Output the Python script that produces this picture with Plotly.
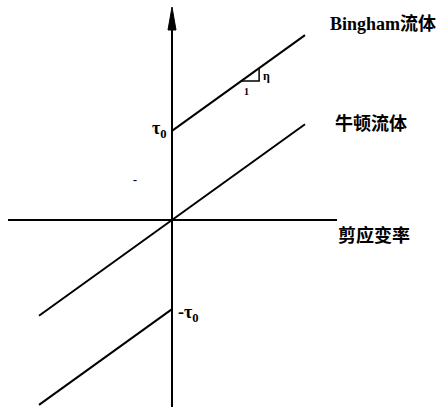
import plotly.graph_objects as go

# Data (model units)
eta = 0.72          # slope (viscosity)
tau0 = 0.67         # yield stress
newton_gamma = [-1.0, 1.0]
bing_up_gamma = [0.0, 1.0]
bing_lo_gamma = [-1.0, 0.0]
tri_gamma = [0.52, 0.655]

newton_tau = [eta * g for g in newton_gamma]
bing_up_tau = [tau0 + eta * g for g in bing_up_gamma]
bing_lo_tau = [-tau0 + eta * g for g in bing_lo_gamma]

PX = 133.0
x0, y0 = 172.0, 220.0
W, H = 441, 407
xr = [-x0 / PX, (W - x0) / PX]
yr = [(y0 - H) / PX, y0 / PX]

def gx(px):
    return (px - x0) / PX

def gy(py):
    return (y0 - py) / PX

fig = go.Figure()
line = dict(color="black", width=2)
for xs, ys in [(newton_gamma, newton_tau), (bing_up_gamma, bing_up_tau), (bing_lo_gamma, bing_lo_tau)]:
    fig.add_trace(go.Scatter(x=xs, y=ys, mode="lines", line=line, showlegend=False, hoverinfo="skip"))

# slope triangle
ta = tau0 + eta * tri_gamma[0]
tb = tau0 + eta * tri_gamma[1]
fig.add_trace(go.Scatter(x=[tri_gamma[0], tri_gamma[1], tri_gamma[1]], y=[ta, ta, tb],
                         mode="lines", line=dict(color="black", width=1.5), showlegend=False, hoverinfo="skip"))

shapes = [
    dict(type="line", x0=gx(8), x1=gx(337), y0=0, y1=0, line=dict(color="black", width=2)),
    dict(type="line", x0=0, x1=0, y0=gy(407), y1=gy(26), line=dict(color="black", width=2)),
    dict(type="path", path=f"M {gx(172)} {gy(7)} L {gx(168)} {gy(30)} L {gx(176)} {gy(30)} Z",
         fillcolor="black", line=dict(color="black", width=1)),
]

cjk = "Noto Sans CJK SC"
serif = "Liberation Serif"
ann = [
    dict(x=gx(328), y=gy(22), text="<b>Bingham</b><b><span style='font-family:Noto Sans CJK SC'>流体</span></b>",
         xanchor="left", font=dict(family=serif, size=18)),
    dict(x=gx(333), y=gy(122), text="<b>牛顿流体</b>", xanchor="left", font=dict(family=cjk, size=18)),
    dict(x=gx(336), y=gy(234), text="<b>剪应变率</b>", xanchor="left", font=dict(family=cjk, size=18)),
    dict(x=gx(169), y=gy(129), text="<b>τ<sub>0</sub></b>", xanchor="right", font=dict(family=serif, size=18)),
    dict(x=gx(176), y=gy(313), text="<b>-τ<sub>0</sub></b>", xanchor="left", font=dict(family=serif, size=18)),
    dict(x=gx(246), y=gy(91), text="<b>1</b>", xanchor="center", font=dict(family=serif, size=10)),
    dict(x=gx(266), y=gy(76), text="<b>η</b>", xanchor="center", font=dict(family=serif, size=12)),
    dict(x=gx(135), y=gy(180), text="<b>-</b>", xanchor="center", font=dict(family=serif, size=12)),
]
for a in ann:
    a.update(showarrow=False, xref="x", yref="y", yanchor="middle")
    a["font"]["color"] = "black"

fig.update_layout(
    width=W, height=H, margin=dict(l=0, r=0, t=0, b=0),
    paper_bgcolor="white", plot_bgcolor="white",
    xaxis=dict(range=xr, visible=False, fixedrange=True),
    yaxis=dict(range=yr, visible=False, fixedrange=True),
    shapes=shapes, annotations=ann, showlegend=False,
)
fig.write_html("out.html", config={"displayModeBar": False},
               post_script="document.body.style.margin='0';document.body.style.overflow='hidden';")
